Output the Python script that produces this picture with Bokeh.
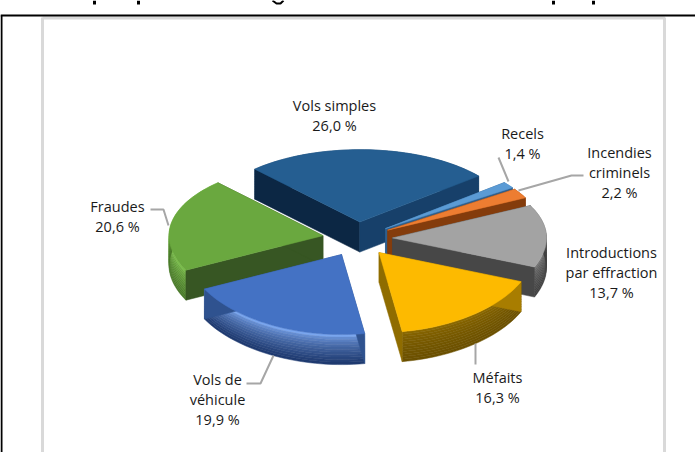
import math
from bokeh.plotting import figure
from bokeh.models import ColumnDataSource, Range1d
from bokeh.core.properties import value
from bokeh.embed import file_html
from bokeh.resources import INLINE

# data
categories = ["Vols simples", "Recels", "Incendies criminels", "Introductions par effraction",
              "Méfaits", "Vols de véhicule", "Fraudes"]
shares = [26.0, 1.4, 2.2, 13.7, 16.3, 19.9, 20.6]
face_colors = ["#255e91", "#5b9bd5", "#ed7d31", "#a3a3a3", "#fdba00", "#4472c4", "#6aa83f"]
rim_top = ["#1b4a78", "#4a86c0", "#a85420", "#777777", "#8a6800", "#7aa6ee", "#7cc04c"]
rim_bottom = ["#123557", "#2f5f8c", "#7a3a10", "#3f3f3f", "#6b5000", "#1f3a70", "#4a7a2a"]
cut_start = ["#0c2744", "#2f5f8c", "#843c0c", "#474747", "#a87d00", "#2f528f", "#375623"]
cut_end = ["#17406a", "#2f5f8c", "#843c0c", "#474747", "#8f6c00", "#2f528f", "#375623"]
label_lines = [["Vols simples", "26,0 %"], ["Recels", "1,4 %"], ["Incendies", "criminels", "2,2 %"],
               ["Introductions", "par effraction", "13,7 %"], ["Méfaits", "16,3 %"],
               ["Vols de", "véhicule", "19,9 %"], ["Fraudes", "20,6 %"]]
label_x = [334, 522, 619, 611, 497, 217, 117]
label_top_y = [105, 133, 152, 252, 377, 379, 206]
draw_order = [0, 1, 2, 3, 6, 4, 5]
start_angle = -43.0

CX, CY, R, EXPL, DEPTH = 357.0, 238.0, 154.0, 35.0, 30.0
K_BACK, K_FRONT_EXTRA = 0.47, 0.05

p = figure(width=695, height=452, x_range=Range1d(0, 695), y_range=Range1d(452, 0),
           output_backend="svg", toolbar_location=None, min_border=0)
p.axis.visible = False
p.grid.visible = False
p.outline_line_color = None

# frame
p.line([42, 42], [17, 452], line_color="#d9d9d9", line_width=3)
p.line([42, 664, 664], [17.5, 17.5, 452], line_color="#d9d9d9", line_width=3)
p.line([1, 1], [15, 452], line_color="#000000", line_width=2)
p.line([0, 695], [15, 15], line_color="#000000", line_width=2)
# clipped bottoms of the cut-off heading
p.segment([94, 138, 553, 593], [0, 0, 0, 0], [94, 138, 553, 593], [4, 4, 4, 4],
          line_color="#000000", line_width=3)
p.line([272, 276, 280, 283], [0, 3, 3, 0], line_color="#000000", line_width=2)

total = sum(shares)
bounds = [start_angle]
for s in shares:
    bounds.append(bounds[-1] + s / total * 360)


def mix(a, b, t):
    ca = [int(a[i:i + 2], 16) for i in (1, 3, 5)]
    cb = [int(b[i:i + 2], 16) for i in (1, 3, 5)]
    return "#%02x%02x%02x" % tuple(round(u + (v - u) * t) for u, v in zip(ca, cb))


def pt(ax, ay, ang, rad, dz=0.0):
    r = math.radians(ang)
    c = math.cos(r)
    k = K_BACK + K_FRONT_EXTRA * max(0.0, -c)
    return ax + rad * math.sin(r), ay - k * rad * c + dz


xs, ys, fills = [], [], []


def add(poly, color):
    xs.append([q[0] for q in poly])
    ys.append([q[1] for q in poly])
    fills.append(color)


for i in draw_order:
    a0, a1 = bounds[i], bounds[i + 1]
    ax, ay = pt(CX, CY, (a0 + a1) / 2, EXPL)
    n = max(8, int((a1 - a0) / 2))
    arc = [a0 + (a1 - a0) * j / n for j in range(n + 1)]
    # outer wall, shaded in bands
    bands = 12
    for b in range(bands):
        z0, z1 = DEPTH * b / bands, DEPTH * (b + 1) / bands
        poly = [pt(ax, ay, t, R, z0) for t in arc] + [pt(ax, ay, t, R, z1) for t in reversed(arc)]
        add(poly, mix(rim_top[i], rim_bottom[i], (b / (bands - 1)) ** 0.6))
    # cut walls
    add([(ax, ay), pt(ax, ay, a0, R), pt(ax, ay, a0, R, DEPTH), (ax, ay + DEPTH)], cut_start[i])
    add([(ax, ay), pt(ax, ay, a1, R), pt(ax, ay, a1, R, DEPTH), (ax, ay + DEPTH)], cut_end[i])
    # top face
    add([(ax, ay)] + [pt(ax, ay, t, R) for t in arc], face_colors[i])

src = ColumnDataSource(dict(xs=xs, ys=ys, fill=fills))
p.patches("xs", "ys", source=src, fill_color="fill", line_color="fill", line_width=0.5)

# leader lines
leaders_x = [[498, 508], [518, 571, 583], [150, 163, 168], [475, 475], [246, 260, 273]]
leaders_y = [[157, 181], [190, 175, 175], [209, 209, 225], [343, 364], [383, 383, 355]]
p.multi_line(leaders_x, leaders_y, line_color="#a6a6a6", line_width=2)

# labels
LH = 20
tx, ty, tt = [], [], []
for lines, x, y in zip(label_lines, label_x, label_top_y):
    for j, s in enumerate(lines):
        tx.append(x)
        ty.append(y + j * LH)
        tt.append(s)
p.text(tx, ty, text=tt, text_font=value("Open Sans"), text_font_size="14.5px", text_color="#1a1a1a",
       text_align="center", text_baseline="middle")

open("out.html", "w").write(file_html(p, INLINE))
